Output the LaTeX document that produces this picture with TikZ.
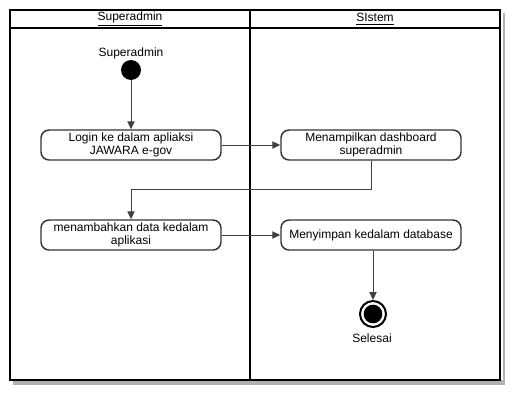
\documentclass[tikz,border=0pt]{standalone}
\usepackage{fontspec}
\setmainfont{Liberation Sans}
\usepackage{xcolor}
\definecolor{lanegray}{RGB}{178,178,178}
\definecolor{linkgray}{RGB}{64,64,64}
\usetikzlibrary{arrows.meta, positioning}

\tikzset{
  actbox/.style={draw=black!80, line width=1.1pt, rounded corners=6pt, fill=white,
    minimum width=135pt, minimum height=22.5pt, inner sep=1pt, align=center,
    font=\fontsize{9}{10}\selectfont},
  flow/.style={draw=linkgray, line width=0.75pt, -{Triangle[width=5.5pt,length=6pt]}},
  lbl/.style={font=\fontsize{9}{10}\selectfont},
}

\begin{document}
\begin{tikzpicture}[x=0.75pt, y=-0.75pt]
  \useasboundingbox (0,0) rectangle (522,400);

  % Shadow of the swimlane frame
  \fill[lanegray] (503,13) rectangle (505,385);
  \fill[lanegray] (13,380) rectangle (505,385);

  % Swimlane frame
  \draw[line width=1.5pt] (10,10) rectangle (500,380);
  \draw[line width=1.5pt] (10,28) -- (500,28);
  \draw[line width=1.5pt] (250,10) -- (250,380);
  \node[lbl] (laneA) at (130,19) {\underline{Superadmin}};
  \node[lbl] (laneB) at (375,19) {\underline{SIstem}};

  % Start
  \node[circle, fill=black, minimum size=15pt, inner sep=0pt] (start) at (131,70) {};
  \node[lbl] (startlbl) at (131,53) {Superadmin};

  % Activities
  \node[actbox] (login) at (131,145) {Login ke dalam apliaksi\\JAWARA e-gov};
  \node[actbox] (dash) at (371,145) {Menampilkan dashboard\\superadmin};
  \node[actbox] (tambah) at (131,235) {menambahkan data kedalam\\aplikasi};
  \node[actbox] (simpan) at (371,235) {Menyimpan kedalam database};

  % End
  \node[circle, draw=black, line width=1.5pt, minimum size=19.5pt, inner sep=0pt] (stop) at (373,314) {};
  \node[circle, fill=black, minimum size=14pt, inner sep=0pt] (stopdot) at (stop.center) {};
  \node[lbl] (stoplbl) at (372,338) {Selesai};

  % Flows
  \draw[flow] (start) -- (login);
  \draw[flow] (login) -- (dash);
  \draw[flow] (dash.south) -- ++(0,29) -| (tambah.north);
  \draw[flow] (tambah) -- (simpan);
  \draw[flow] (simpan.south -| stop.north) -- (stop.north);
\end{tikzpicture}
\end{document}
